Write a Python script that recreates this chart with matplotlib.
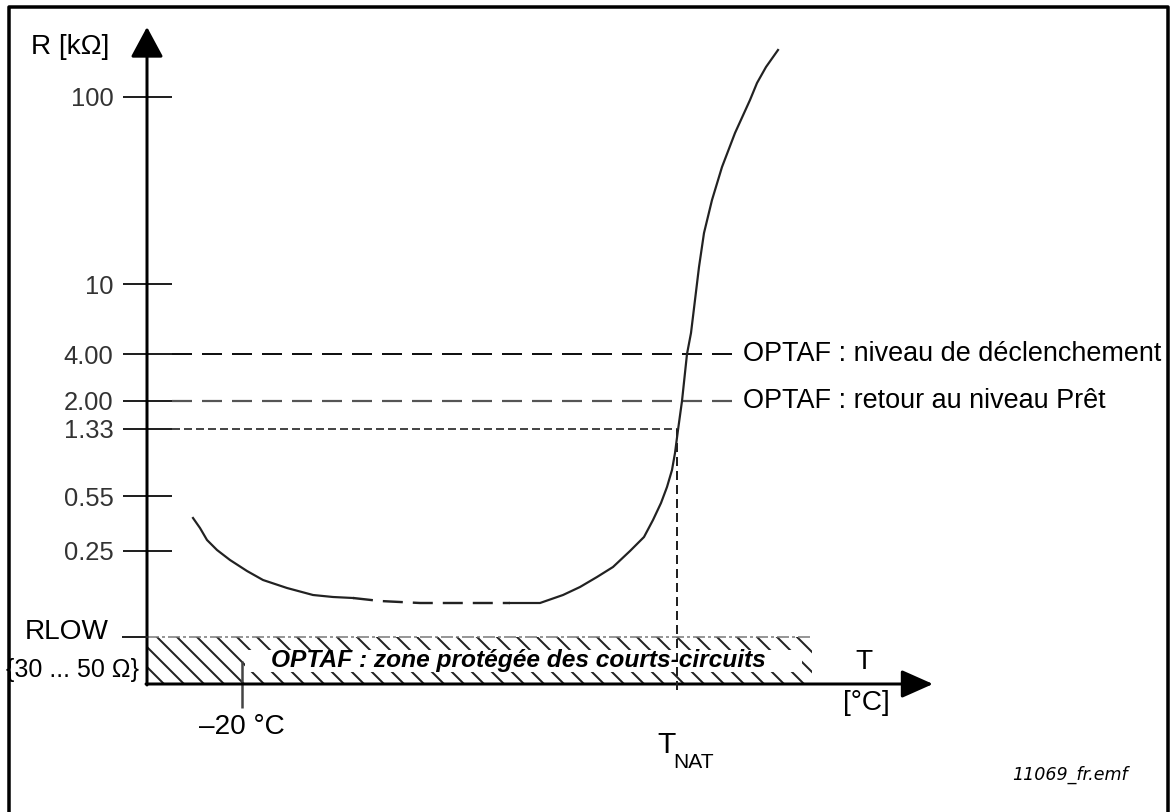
import matplotlib
matplotlib.use("Agg")
import matplotlib.pyplot as plt
from matplotlib.lines import Line2D
from matplotlib.patches import Rectangle

DPI = 120
W, H = 1173, 812


def px(v):
    return v * 72.0 / DPI


plt.rcParams['font.family'] = ['Liberation Sans', 'DejaVu Sans']
plt.rcParams['lines.scale_dashes'] = False
plt.rcParams['hatch.linewidth'] = px(2)

# ---------------- data (schematic units: T along x, R level along y) ----------
r_tick_labels = ["100", "10", "4.00", "2.00", "1.33", "0.55", "0.25"]
r_tick_levels = [587, 400, 330, 283, 255, 188, 133]
rlow_level = 47
rlow_label = "RLOW"
rlow_range_label = "{30 ... 50 \u03a9}"
trip_level = 330
ready_level = 283
tnat_level = 255
trip_label = "OPTAF : niveau de déclenchement"
ready_label = "OPTAF : retour au niveau Prêt"
zone_label = "OPTAF : zone protégée des courts-circuits"
t_minus20 = 95
t_minus20_label = "\u201320 °C"
t_nat = 530
zone_end = 665
threshold_end = 585
x_axis_end = 786
y_axis_end = 657

# PTC resistance curve
curve1_t = [46, 53, 60, 70, 83, 100, 116, 140, 166, 186, 206]
curve1_r = [166, 156, 144, 134, 124, 113, 104, 96, 89, 87, 86]
curve2_t = [206, 233, 273, 323, 363]
curve2_r = [86, 83, 81, 81, 81]
curve3_t = [363, 393, 416, 433, 450, 466, 483, 497, 506, 514, 520, 525, 528,
            531, 535, 540, 544, 548, 552, 557, 565, 575, 588, 603, 610, 619, 631]
curve3_r = [81, 81, 89, 97, 107, 117, 133, 147, 164, 181, 197, 214, 231,
            254, 283, 330, 351, 384, 417, 451, 484, 517, 551, 584, 601, 617, 634]

# ---------------- figure ----------------
fig = plt.figure(figsize=(W / DPI, H / DPI), dpi=DPI)
fig.patch.set_facecolor('white')

# outer frame (left, top, right)
fig.add_artist(Line2D([9 / W, 9 / W, 1168 / W, 1168 / W],
                      [0, 1 - 7 / H, 1 - 7 / H, 0],
                      transform=fig.transFigure, color='black', lw=px(3.5)))

ax = fig.add_axes([147 / W, (H - 684) / H, x_axis_end / W, y_axis_end / H])
ax.set_xlim(0, x_axis_end)
ax.set_ylim(0, y_axis_end)
ax.patch.set_visible(False)
for s in ax.spines.values():
    s.set_visible(False)

# y ticks
ax.set_yticks(r_tick_levels, r_tick_labels)
ax.tick_params(axis='y', direction='inout', length=px(49), width=px(2),
               pad=px(9), labelsize=px(25.5), labelcolor='#333333',
               color='#222222')
# x tick (-20 °C)
ax.set_xticks([t_minus20], [t_minus20_label])
ax.tick_params(axis='x', direction='inout', length=px(47), width=px(2.5),
               pad=px(6), labelsize=px(28), color='#444444')

# axes with arrow heads
ax.annotate('', xy=(0, y_axis_end), xytext=(0, -1),
            arrowprops=dict(arrowstyle='-|>,head_length=%f,head_width=%f' % (px(26), px(14)),
                            lw=px(3), color='black', shrinkA=0, shrinkB=0,
                            mutation_scale=1),
            annotation_clip=False)
ax.annotate('', xy=(x_axis_end, 0), xytext=(-1, 0),
            arrowprops=dict(arrowstyle='-|>,head_length=%f,head_width=%f' % (px(27), px(12)),
                            lw=px(3), color='black', shrinkA=0, shrinkB=0,
                            mutation_scale=1),
            annotation_clip=False)

# short-circuit protected zone
ax.add_patch(Rectangle((0, 0), zone_end, rlow_level, facecolor='none',
                       edgecolor='#222222', lw=0, hatch='\\\\', zorder=1))
ax.add_patch(Rectangle((98, 12), 557, 22, facecolor='white',
                       edgecolor='none', zorder=2))
ax.plot([0, zone_end], [rlow_level, rlow_level], color='#777777', lw=px(1.5),
        dashes=(px(12), px(3), px(3), px(3)), zorder=2)
ax.plot([-24, 0], [rlow_level, rlow_level], color='#222222', lw=px(2),
        clip_on=False, zorder=3)
ax.text(371, 23, zone_label, ha='center', va='center', fontsize=px(24.5),
        fontweight='bold', fontstyle='italic', zorder=4)

# threshold lines
ax.plot([25, threshold_end], [trip_level, trip_level], color='#111111',
        lw=px(2), dashes=(px(20), px(10)))
ax.plot([25, threshold_end], [ready_level, ready_level], color='#555555',
        lw=px(2.2), dashes=(px(20), px(10)))
ax.plot([25, t_nat], [tnat_level, tnat_level], color='#333333',
        lw=px(1.8), dashes=(px(8), px(4)))
ax.plot([t_nat, t_nat], [tnat_level, -9], color='#222222', lw=px(2),
        dashes=(px(9), px(5)), clip_on=False, zorder=3)

# resistance curve
ax.plot(curve1_t, curve1_r, color='#222222', lw=px(2.2), solid_joinstyle='round')
ax.plot(curve2_t, curve2_r, color='#222222', lw=px(2.4), dashes=(px(20), px(10)))
ax.plot(curve3_t, curve3_r, color='#222222', lw=px(2.2), solid_joinstyle='round')

# labels
ax.text(596, trip_level, trip_label, ha='left', va='center', fontsize=px(27))
ax.text(596, ready_level, ready_label, ha='left', va='center', fontsize=px(27))
ax.text(-77, 637, "R [k\u03a9]", ha='center', va='center', fontsize=px(28))
ax.text(-80, 52, rlow_label, ha='center', va='center', fontsize=px(28))
ax.text(-75, 14, rlow_range_label, ha='center', va='center', fontsize=px(25))
ax.text(717, 22, "T", ha='center', va='center', fontsize=px(28))
ax.text(719, -19, "[°C]", ha='center', va='center', fontsize=px(28))
ax.text(520, -61, "T", ha='center', va='center', fontsize=px(30))
ax.text(547, -78, "NAT", ha='center', va='center', fontsize=px(21))
ax.text(923, -91, "11069_fr.emf", ha='center', va='center', fontsize=px(17.5),
        fontstyle='italic', family='DejaVu Sans')

fig.savefig("out.png", dpi=DPI, facecolor='white')
